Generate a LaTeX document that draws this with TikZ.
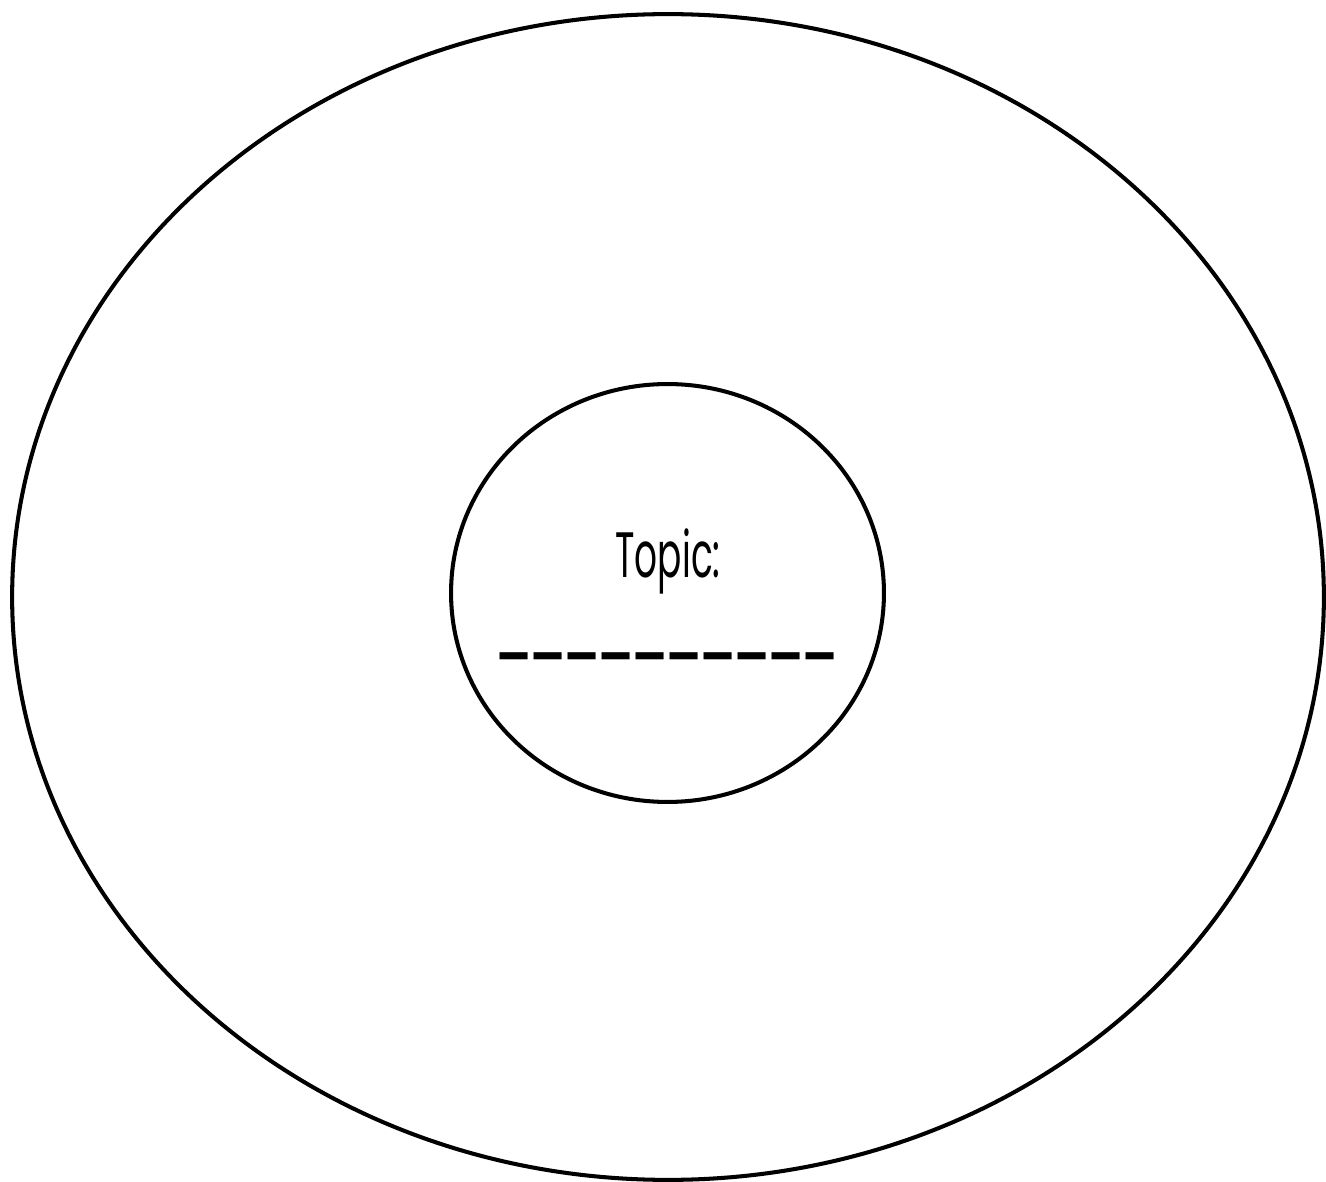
\documentclass[tikz,border=0pt]{standalone}
\usepackage{fontspec}
\usepackage{graphicx}
\setmainfont{Poppins}
\usetikzlibrary{shapes.geometric}

% one dash of the blank line
\newcommand{\blankdash}{\_\kern-2.6pt}

\begin{document}
\begin{tikzpicture}[x=0.02cm, y=-0.02cm,
    ring/.style={draw, ellipse, line width=2.3pt, inner sep=0pt}]
  \useasboundingbox (0,0) rectangle (1326,1182);

  % Rings
  \node[ring, minimum width=26.24cm, minimum height=23.32cm] (outer) at (668,597) {};
  \node[ring, minimum width=8.66cm, minimum height=8.36cm] (inner) at (667.5,593) {};

  % Labels
  \node[font=\fontsize{36.5}{44}\selectfont, inner sep=0pt, anchor=base] (topic) at (668,578)
    {\scalebox{0.56}[1]{Topic:}};
  \node[font=\fontsize{30}{36}\selectfont, inner sep=0pt, anchor=base] (blank) at (667,649)
    {\scalebox{1}[1.6]{\blankdash\blankdash\blankdash\blankdash\blankdash
      \blankdash\blankdash\blankdash\blankdash\_}};
\end{tikzpicture}
\end{document}
